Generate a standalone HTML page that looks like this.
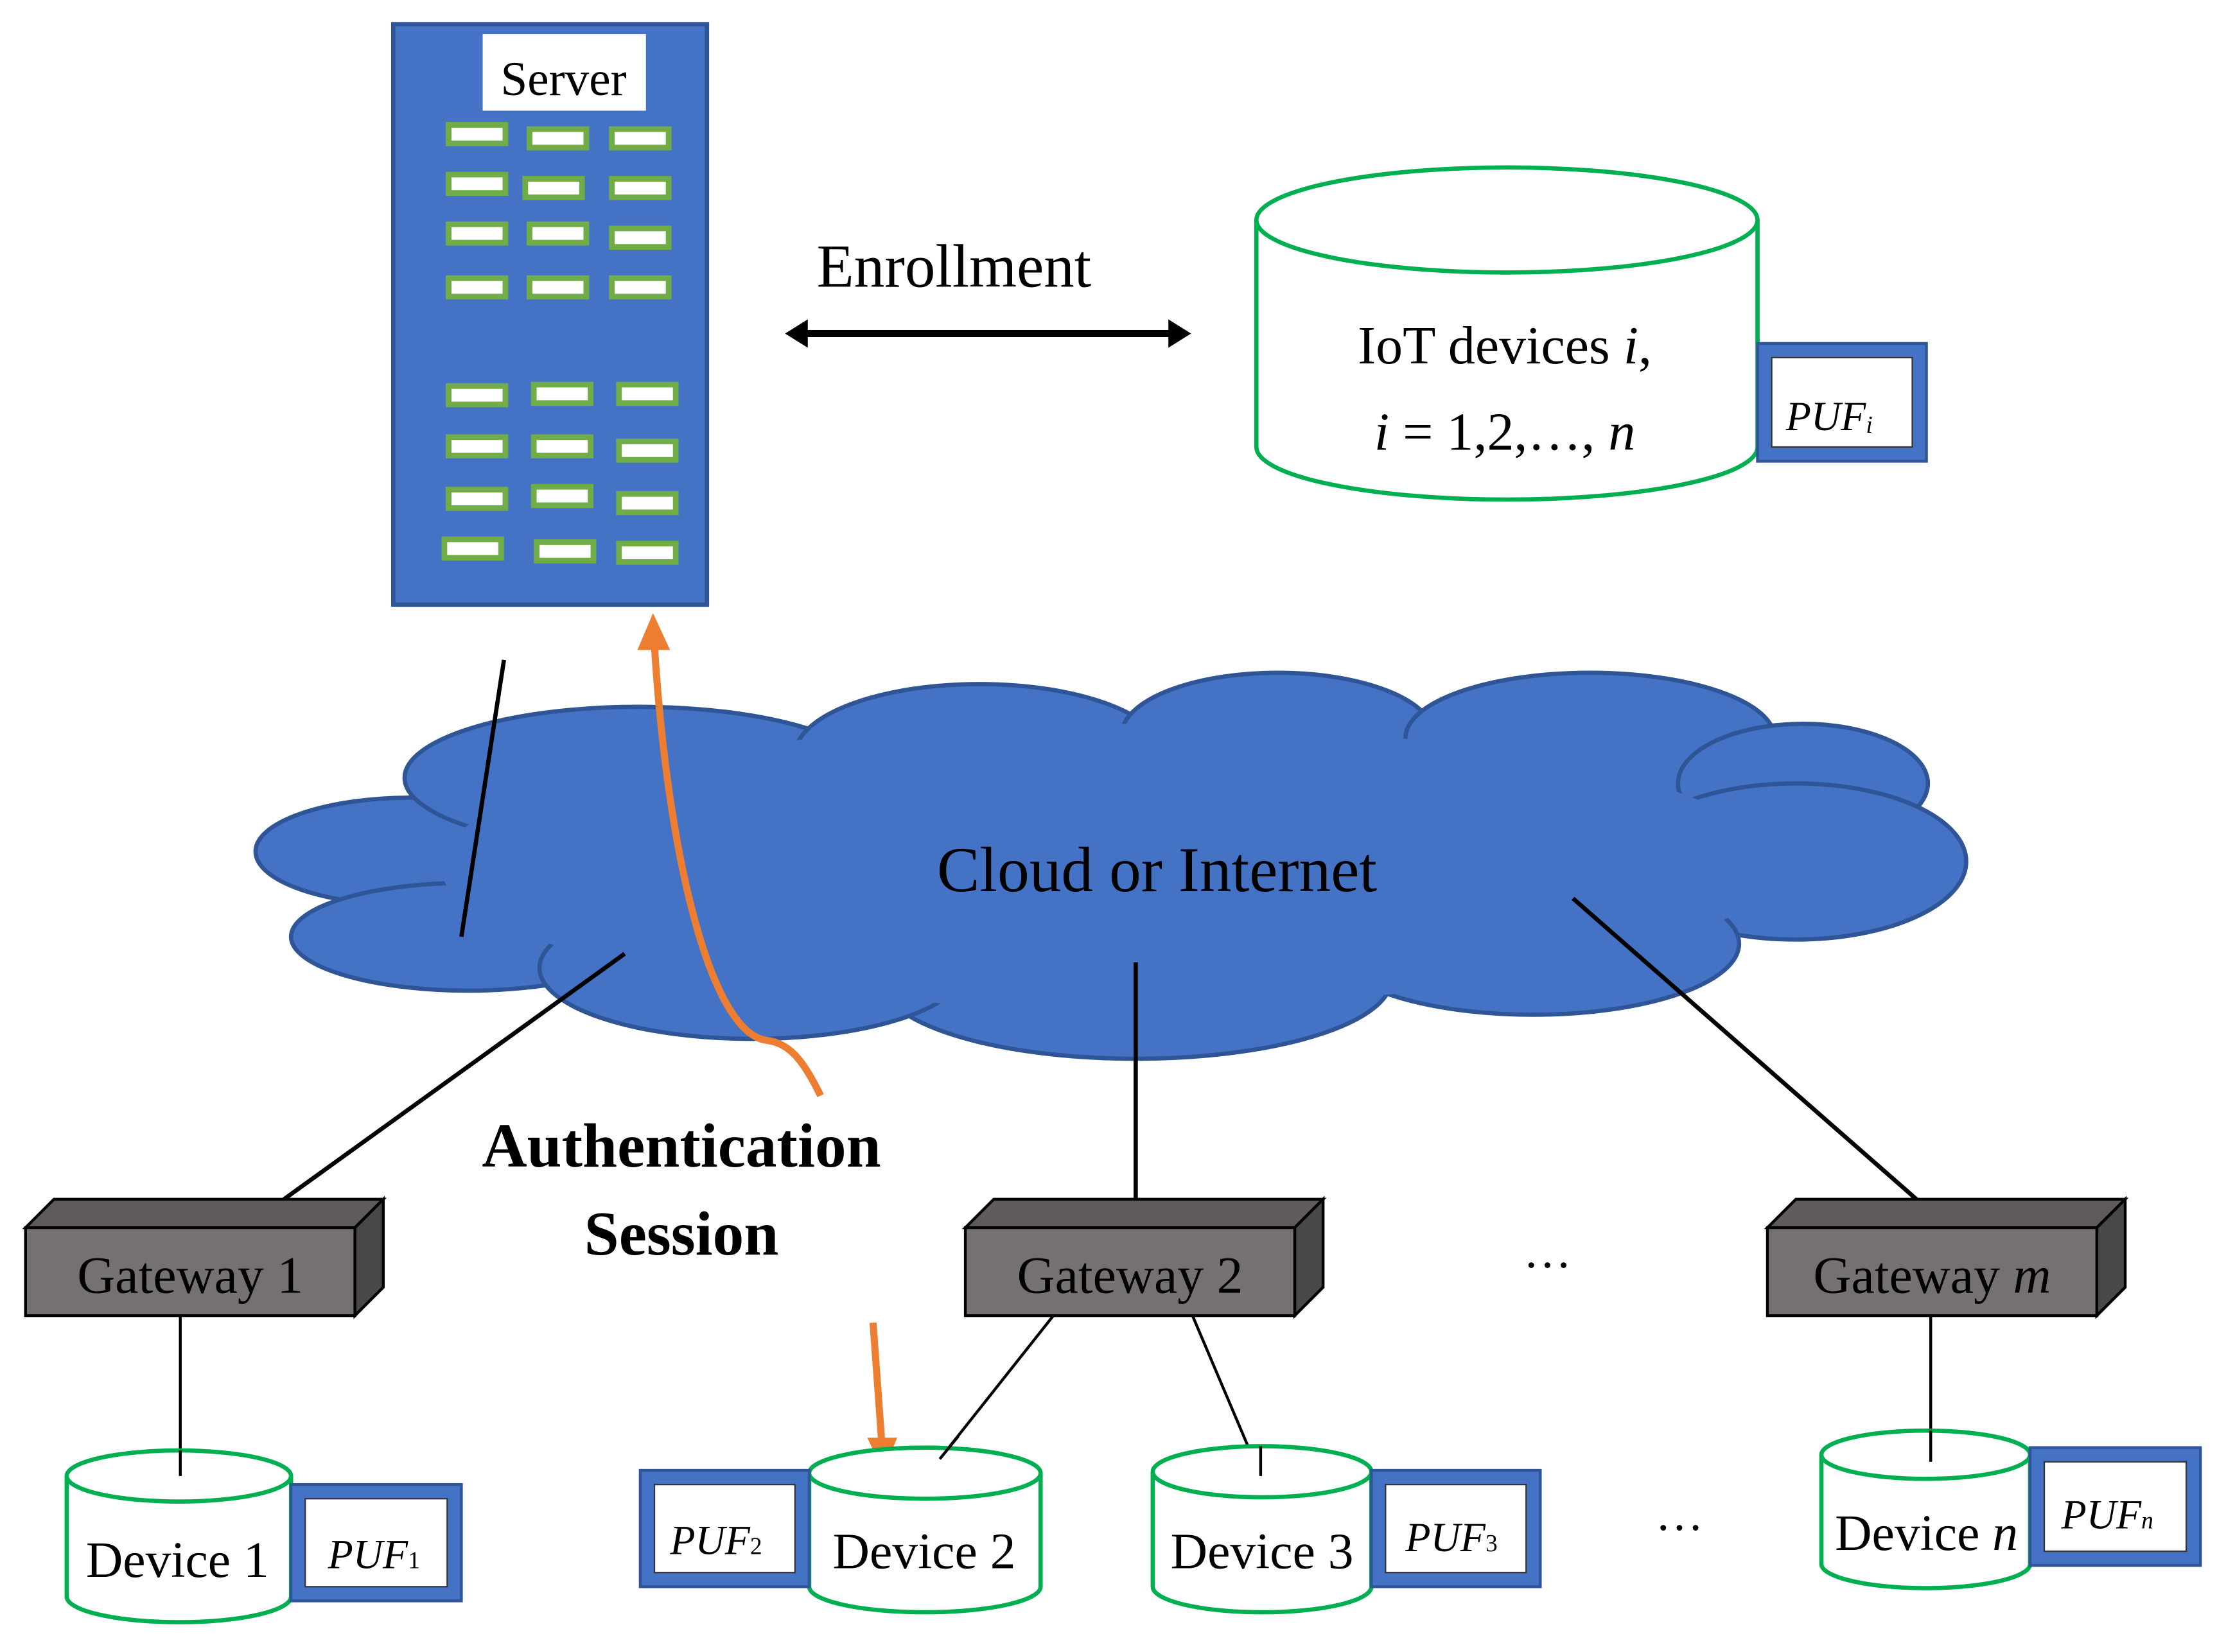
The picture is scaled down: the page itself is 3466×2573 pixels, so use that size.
<!DOCTYPE html>
<html><head><meta charset="utf-8"><style>
html,body{margin:0;padding:0;background:#fff;}
svg{display:block;}
text{font-family:"Liberation Serif",serif;fill:#000;}
</style></head><body>
<svg width="3466" height="2573" viewBox="0 0 1568 1164" xmlns="http://www.w3.org/2000/svg">
<rect width="1568" height="1164" fill="#fff"/>
<!-- Server -->
<rect x="277" y="17" width="221" height="409" fill="#4472C4" stroke="#2F5597" stroke-width="3"/>
<rect x="340" y="24" width="115" height="54" fill="#fff"/>
<text x="397" y="67" font-size="34" text-anchor="middle">Server</text>
<g fill="#fff" stroke="#70AD47" stroke-width="4">
<rect x="316" y="88" width="40" height="13"/><rect x="373" y="91" width="40" height="13"/><rect x="431" y="91" width="40" height="13"/>
<rect x="316" y="123" width="40" height="13"/><rect x="370" y="126" width="40" height="13"/><rect x="431" y="126" width="40" height="13"/>
<rect x="316" y="158" width="40" height="13"/><rect x="373" y="158" width="40" height="13"/><rect x="431" y="161" width="40" height="13"/>
<rect x="316" y="196" width="40" height="13"/><rect x="373" y="196" width="40" height="13"/><rect x="431" y="196" width="40" height="13"/>
<rect x="316" y="272" width="40" height="13"/><rect x="376" y="271" width="40" height="13"/><rect x="436" y="271" width="40" height="13"/>
<rect x="316" y="308" width="40" height="13"/><rect x="376" y="308" width="40" height="13"/><rect x="436" y="311" width="40" height="13"/>
<rect x="316" y="345" width="40" height="13"/><rect x="376" y="343" width="40" height="13"/><rect x="436" y="348" width="40" height="13"/>
<rect x="313" y="380" width="40" height="13"/><rect x="378" y="382" width="40" height="13"/><rect x="436" y="383" width="40" height="13"/>
</g>
<!-- Enrollment -->
<text x="672" y="202" font-size="43" text-anchor="middle">Enrollment</text>
<line x1="566" y1="235" x2="826" y2="235" stroke="#000" stroke-width="5"/>
<polygon points="553,235 569,225 569,245" fill="#000"/>
<polygon points="839,235 823,225 823,245" fill="#000"/>
<!-- DB -->
<path d="M885,155 L885,315 A176.5,37 0 0 0 1238,315 L1238,155" fill="#fff" stroke="#00B050" stroke-width="3"/>
<ellipse cx="1061.5" cy="155" rx="176.5" ry="37" fill="#fff" stroke="#00B050" stroke-width="3"/>
<text x="1060" y="256" font-size="38" text-anchor="middle">IoT devices <tspan font-style="italic">i</tspan>,</text>
<text x="1060" y="317" font-size="38" text-anchor="middle"><tspan font-style="italic">i</tspan> = 1,2,…, <tspan font-style="italic">n</tspan></text>
<rect x="1238" y="242" width="119" height="83" fill="#4472C4" stroke="#2F5597" stroke-width="2"/>
<rect x="1248" y="252" width="99" height="63" fill="#fff" stroke="#333" stroke-width="1"/>
<text x="1258" y="303" font-size="29" font-style="italic">PUF<tspan font-size="17" dy="2">i</tspan></text>
<!-- Cloud -->
<g fill="#4472C4" stroke="#2F5597" stroke-width="3">
<ellipse cx="290" cy="600" rx="110" ry="38"/>
<ellipse cx="330" cy="660" rx="125" ry="38"/>
<ellipse cx="450" cy="548" rx="165" ry="50"/>
<ellipse cx="690" cy="532" rx="130" ry="50"/>
<ellipse cx="900" cy="518" rx="110" ry="44"/>
<ellipse cx="1120" cy="520" rx="130" ry="46"/>
<ellipse cx="1270" cy="552" rx="88" ry="42"/>
<ellipse cx="1265" cy="607" rx="120" ry="55"/>
<ellipse cx="1080" cy="665" rx="145" ry="50"/>
<ellipse cx="800" cy="690" rx="180" ry="56"/>
<ellipse cx="530" cy="682" rx="150" ry="50"/>
</g>
<ellipse cx="780" cy="610" rx="470" ry="100" fill="#4472C4"/>
<text x="815" y="628" font-size="45" text-anchor="middle">Cloud or Internet</text>
<!-- lines -->
<g stroke="#000" stroke-width="3">
<line x1="325" y1="660" x2="355" y2="465"/>
<line x1="440" y1="672" x2="200" y2="845"/>
<line x1="800" y1="678" x2="800" y2="845"/>
<line x1="1108" y1="633" x2="1350" y2="845"/>
</g>
<!-- orange -->
<path d="M578,772 C565,745 555,735 540,733 C500,728 470,600 461,455" fill="none" stroke="#ED7D31" stroke-width="5"/>
<polygon points="460,432 449,458 472,458" fill="#ED7D31"/>
<line x1="615" y1="932" x2="621" y2="1015" stroke="#ED7D31" stroke-width="5"/>
<polygon points="622,1037 611,1013 632,1013" fill="#ED7D31"/>
<text x="480" y="822" font-size="44" font-weight="bold" text-anchor="middle">Authentication</text>
<text x="480" y="884" font-size="44" font-weight="bold" text-anchor="middle">Session</text>
<!-- Gateways -->
<g stroke="#000" stroke-width="2">
<polygon points="18,865 38,845 270,845 250,865" fill="#5f5b5b"/>
<polygon points="250,865 270,845 270,907 250,927" fill="#4a4747"/>
<rect x="18" y="865" width="232" height="62" fill="#767171"/>
<polygon points="680,865 700,845 932,845 912,865" fill="#5f5b5b"/>
<polygon points="912,865 932,845 932,907 912,927" fill="#4a4747"/>
<rect x="680" y="865" width="232" height="62" fill="#767171"/>
<polygon points="1245,865 1265,845 1497,845 1477,865" fill="#5f5b5b"/>
<polygon points="1477,865 1497,845 1497,907 1477,927" fill="#4a4747"/>
<rect x="1245" y="865" width="232" height="62" fill="#767171"/>
</g>
<text x="134" y="911" font-size="37" text-anchor="middle">Gateway 1</text>
<text x="796" y="911" font-size="37" text-anchor="middle">Gateway 2</text>
<text x="1361" y="911" font-size="37" text-anchor="middle">Gateway <tspan font-style="italic">m</tspan></text>
<text x="1090" y="893" font-size="34" text-anchor="middle">…</text>
<text x="1183" y="1078" font-size="34" text-anchor="middle">…</text>
<g stroke="#000" stroke-width="2">
<line x1="127" y1="927" x2="127" y2="1040"/>
<line x1="742" y1="927" x2="662" y2="1028"/>
<line x1="840" y1="927" x2="888" y2="1040"/>
<line x1="1360" y1="927" x2="1360" y2="1030"/>
</g>
<!-- Devices -->
<g fill="#fff" stroke="#00B050" stroke-width="3">
<path d="M47,1040 L47,1125 A79,18 0 0 0 205,1125 L205,1040"/>
<ellipse cx="126" cy="1040" rx="79" ry="18"/>
<path d="M570,1038 L570,1118 A81.5,18 0 0 0 733,1118 L733,1038"/>
<ellipse cx="651.5" cy="1038" rx="81.5" ry="18"/>
<path d="M812,1037 L812,1118 A77,18 0 0 0 966,1118 L966,1037"/>
<ellipse cx="889" cy="1037" rx="77" ry="18"/>
<path d="M1283,1025 L1283,1102 A73.5,17 0 0 0 1430,1102 L1430,1025"/>
<ellipse cx="1356.5" cy="1025" rx="73.5" ry="17"/>
</g>
<g stroke="#000" stroke-width="2">
<line x1="127" y1="1022" x2="127" y2="1040"/>
<line x1="675" y1="1012" x2="662" y2="1028"/>
<line x1="888" y1="1019" x2="888" y2="1040"/>
<line x1="1360" y1="1008" x2="1360" y2="1030"/>
</g>
<text x="125" y="1111" font-size="36" text-anchor="middle">Device 1</text>
<text x="651" y="1105" font-size="36" text-anchor="middle">Device 2</text>
<text x="889" y="1105" font-size="36" text-anchor="middle">Device 3</text>
<text x="1357" y="1092" font-size="36" text-anchor="middle">Device <tspan font-style="italic">n</tspan></text>
<!-- PUF boxes -->
<g>
<rect x="205" y="1046" width="120" height="82" fill="#4472C4" stroke="#2F5597" stroke-width="2"/>
<rect x="215" y="1056" width="100" height="62" fill="#fff" stroke="#333" stroke-width="1"/>
<text x="231" y="1105" font-size="29" font-style="italic">PUF<tspan font-size="17" font-style="normal">1</tspan></text>
<rect x="451" y="1036" width="119" height="82" fill="#4472C4" stroke="#2F5597" stroke-width="2"/>
<rect x="461" y="1046" width="99" height="62" fill="#fff" stroke="#333" stroke-width="1"/>
<text x="472" y="1095" font-size="29" font-style="italic">PUF<tspan font-size="17" font-style="normal">2</tspan></text>
<rect x="966" y="1036" width="119" height="82" fill="#4472C4" stroke="#2F5597" stroke-width="2"/>
<rect x="976" y="1046" width="99" height="62" fill="#fff" stroke="#333" stroke-width="1"/>
<text x="990" y="1093" font-size="29" font-style="italic">PUF<tspan font-size="17" font-style="normal">3</tspan></text>
<rect x="1430" y="1020" width="120" height="83" fill="#4472C4" stroke="#2F5597" stroke-width="2"/>
<rect x="1440" y="1030" width="100" height="63" fill="#fff" stroke="#333" stroke-width="1"/>
<text x="1452" y="1077" font-size="29" font-style="italic">PUF<tspan font-size="17">n</tspan></text>
</g>
</svg>
</body></html>
